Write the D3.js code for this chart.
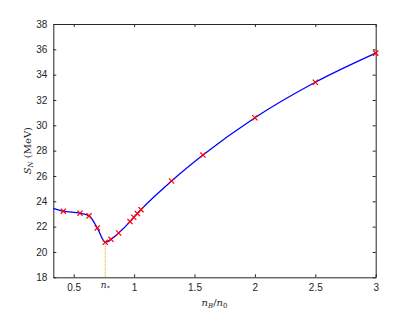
<!DOCTYPE html>
<html>
<head>
<meta charset="utf-8">
<script src="https://cdn.jsdelivr.net/npm/d3@7"></script>
<style>
  body { margin: 0; background: #fff; }
  svg text { font-family: "Liberation Sans", Arial, sans-serif; }
  .lbl { font-family: "DejaVu Serif", "Liberation Serif", serif; }
</style>
</head>
<body>
<svg id="chart" width="415" height="312"></svg>
<script>
// density ratio n_B/n_0 of the computed points and symmetry energy S_N (MeV)
var nRatio = [0.414, 0.552, 0.627, 0.695, 0.761, 0.809, 0.872, 0.966, 0.997, 1.027, 1.057, 1.31, 1.57, 2.0, 2.5, 3.0];
var symEnergy = [23.22, 23.06, 22.85, 21.9, 20.77, 21.0, 21.5, 22.4, 22.74, 23.03, 23.34, 25.6, 27.65, 30.6, 33.4, 35.7];
// start of the fitted curve at the left edge
var curveStartX = [0.331];
var curveStartY = [23.45];
var nStar = 0.761;
var xTicks = [0.5, 1, 1.5, 2, 2.5, 3];
var yTicks = [18, 20, 22, 24, 26, 28, 30, 32, 34, 36, 38];

var svg = d3.select("#chart"),
    plotLeft = 53.3, plotRight = 375.7, plotTop = 24, plotBottom = 277.3;

var x = d3.scaleLinear().domain([0.331, 3]).range([plotLeft, plotRight]);
var y = d3.scaleLinear().domain([18, 38]).range([plotBottom, plotTop]);

var axisColor = "#262626";

// dotted line at n_*
var minY = symEnergy[nRatio.indexOf(nStar)];
svg.append("line")
   .attr("x1", x(nStar)).attr("x2", x(nStar))
   .attr("y1", y(minY)).attr("y2", y(18))
   .attr("stroke", "#f0a020")
   .attr("stroke-width", 1.1)
   .attr("stroke-dasharray", "1,1");

// axes (box with inward ticks)
function styleAxis(g) {
  g.select(".domain").attr("stroke", axisColor);
  g.selectAll(".tick line").attr("stroke", axisColor);
  g.selectAll(".tick text").attr("fill", axisColor).attr("font-size", "10px");
}

svg.append("g")
   .attr("transform", "translate(0," + plotBottom + ")")
   .call(d3.axisBottom(x).tickValues(xTicks).tickSizeInner(-3).tickSizeOuter(0).tickPadding(7).tickFormat(d3.format("")))
   .call(styleAxis);

svg.append("g")
   .attr("transform", "translate(0," + plotTop + ")")
   .call(d3.axisTop(x).tickValues(xTicks).tickSizeInner(-3).tickSizeOuter(0).tickFormat(""))
   .call(styleAxis);

svg.append("g")
   .attr("transform", "translate(" + plotLeft + ",0)")
   .call(d3.axisLeft(y).tickValues(yTicks).tickSizeInner(-3).tickSizeOuter(0).tickPadding(6))
   .call(styleAxis);

svg.append("g")
   .attr("transform", "translate(" + plotRight + ",0)")
   .call(d3.axisRight(y).tickValues(yTicks).tickSizeInner(-3).tickSizeOuter(0).tickFormat(""))
   .call(styleAxis);

// n_* label
var ns = svg.append("text")
   .attr("class", "lbl")
   .attr("x", x(nStar))
   .attr("y", 288)
   .attr("text-anchor", "middle")
   .attr("font-size", "9px")
   .attr("fill", axisColor);
ns.append("tspan").attr("font-style", "italic").text("n");
ns.append("tspan").attr("font-size", "6px").attr("dy", 2).text("*");

// fitted curve
var linePts = curveStartX.map(function(d, i) { return [d, curveStartY[i]]; })
  .concat(nRatio.map(function(d, i) { return [d, symEnergy[i]]; }));

var line = d3.line()
   .x(function(d) { return x(d[0]); })
   .y(function(d) { return y(d[1]); })
   .curve(d3.curveMonotoneX);

svg.append("path")
   .datum(linePts)
   .attr("d", line)
   .attr("fill", "none")
   .attr("stroke", "#0000ff")
   .attr("stroke-width", 1.3);

// red x markers
var s = 2.6;
svg.selectAll(".mk")
   .data(nRatio)
   .enter().append("path")
   .attr("class", "mk")
   .attr("d", function(d, i) {
     var cx = x(d), cy = y(symEnergy[i]);
     return "M" + (cx - s) + "," + (cy - s) + "L" + (cx + s) + "," + (cy + s) +
            "M" + (cx - s) + "," + (cy + s) + "L" + (cx + s) + "," + (cy - s);
   })
   .attr("stroke", "#ff0000")
   .attr("stroke-width", 1.2)
   .attr("fill", "none");

// axis labels
var xl = svg.append("text")
   .attr("class", "lbl")
   .attr("x", (plotLeft + plotRight) / 2)
   .attr("y", 306)
   .attr("text-anchor", "middle")
   .attr("font-size", "10px")
   .attr("fill", axisColor);
xl.append("tspan").attr("font-style", "italic").text("n");
xl.append("tspan").attr("font-style", "italic").attr("font-size", "7px").attr("dy", 2).text("B");
xl.append("tspan").attr("dy", -2).text("/");
xl.append("tspan").attr("font-style", "italic").text("n");
xl.append("tspan").attr("font-size", "7px").attr("dy", 2).text("0");

var yl = svg.append("text")
   .attr("class", "lbl")
   .attr("transform", "translate(31," + ((plotTop + plotBottom) / 2) + ") rotate(-90)")
   .attr("text-anchor", "middle")
   .attr("font-size", "10px")
   .attr("fill", axisColor);
yl.append("tspan").attr("font-style", "italic").text("S");
yl.append("tspan").attr("font-style", "italic").attr("font-size", "7px").attr("dy", 2).text("N");
yl.append("tspan").attr("dy", -2).text(" (MeV)");
</script>
</body>
</html>
